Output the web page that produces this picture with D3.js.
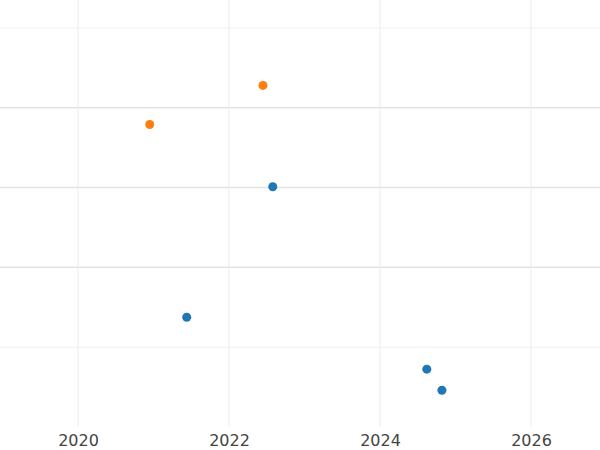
<!DOCTYPE html>
<html>
<head>
<meta charset="utf-8">
<script src="https://cdn.jsdelivr.net/npm/d3@7"></script>
<style>
  body { margin: 0; background: #fff; }
  text { font-family: "DejaVu Sans", sans-serif; }
</style>
</head>
<body>
<svg width="600" height="450"></svg>
<script>
// scatter data
var orangeX = [2020.95, 2022.45];
var orangeY = [3.79, 4.28];
var blueX = [2022.58, 2021.44, 2024.62, 2024.82];
var blueY = [3.01, 1.375, 0.725, 0.46];
var xTicks = [2020, 2022, 2024, 2026];
var yGrid = [1, 2, 3, 4, 5];

var svg = d3.select('svg');

var x = d3.scaleLinear().domain([2018.967, 2026.914]).range([0, 600]);
var y = d3.scaleLinear().domain([0, 5.35]).range([427, 0]);

// horizontal grid
svg.selectAll('.hg').data(yGrid).enter().append('line')
  .attr('x1', 0).attr('x2', 600)
  .attr('y1', d => y(d)).attr('y2', d => y(d))
  .attr('stroke', d => (d === 1 || d === 5) ? '#efefef' : '#e3e3e3')
  .attr('stroke-width', d => (d === 1 || d === 5) ? 1 : 1.5);

// vertical grid
svg.selectAll('.vg').data(xTicks).enter().append('line')
  .attr('x1', d => x(d)).attr('x2', d => x(d))
  .attr('y1', 0).attr('y2', 427)
  .attr('stroke', '#ececec');

var axis = d3.axisBottom(x).tickValues(xTicks).tickFormat(d3.format('d')).tickSize(0).tickPadding(8);
var g = svg.append('g').attr('transform', 'translate(0,427)').call(axis);
g.select('.domain').remove();
g.selectAll('text').attr('font-size', 16).attr('fill', '#444');

function dots(xs, ys, color) {
  svg.append('g').selectAll('circle').data(xs).enter().append('circle')
    .attr('cx', d => x(d)).attr('cy', (d, i) => y(ys[i]))
    .attr('r', 4.5).attr('fill', color);
}
dots(orangeX, orangeY, '#ff7f0e');
dots(blueX, blueY, '#1f77b4');
</script>
</body>
</html>
